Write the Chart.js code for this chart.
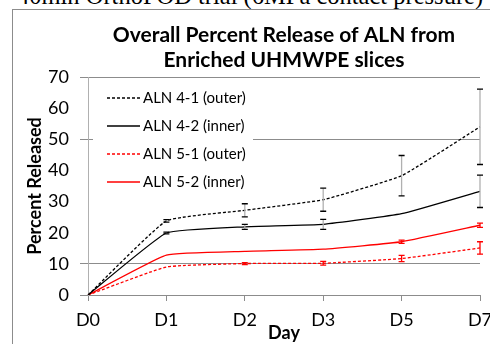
<!DOCTYPE html>
<html>
<head>
<meta charset="utf-8">
<script src="https://cdn.jsdelivr.net/npm/chart.js@4"></script>
<style>
  body { margin: 0; background: #fff; overflow: hidden; }
  #wrap { position: relative; width: 490px; height: 344px; overflow: hidden; }
  #caption { position: absolute; left: 17px; top: -16px; font: 24.5px "Liberation Serif", serif; line-height: 24px; white-space: nowrap; color: #000; }
  #frame { position: absolute; left: 12px; top: 9px; width: 500px; height: 400px; border-left: 1px solid #8c8c8c; border-top: 1px solid #8c8c8c; }
  canvas { position: absolute; left: 0; top: 0; }
</style>
</head>
<body>
<div id="wrap">
  <div id="caption">40min OrthoPOD trial (6MPa contact pressure)</div>
  <div id="frame"></div>
  <canvas id="chart" width="490" height="344"></canvas>
</div>
<script>
 // Sample data
 const days = ['D0', 'D1', 'D2', 'D3', 'D5', 'D7'];
 const titleLines = ['Overall Percent Release of ALN from', 'Enriched UHMWPE slices'];

 const aln41 = [0, 23.8, 27.2, 30.6, 38.3, 54.0];
 const aln41Err = [0, 0.4, 2.1, 3.7, 6.5, 12.1];
 const aln42 = [0, 19.9, 21.9, 22.7, 26.1, 33.3];
 const aln42Err = [0, 0.3, 0.8, 1.6, 0, 5.2];
 const aln51 = [0, 9.0, 10.1, 10.2, 11.7, 15.1];
 const aln51Err = [0, 0, 0.3, 0.6, 1.0, 2.0];
 const aln52 = [0, 12.8, 14.0, 14.7, 17.1, 22.4];
 const aln52Err = [0, 0, 0, 0, 0.5, 0.7];

 const gridValues = [0, 10, 50, 70];
 const font = 'Lato, "Open Sans", sans-serif';

 function series(label, data, errors, color, dashed, barColor) {
     return {
         label: label,
         data: data,
         errors: errors,
         barColor: barColor,
         borderColor: color,
         borderWidth: 1.3,
         borderDash: dashed ? [3, 2] : [],
         pointRadius: 0,
         tension: 0.12,
         fill: false
     };
 }

 // error bars drawn from the scales
 const errorBars = {
     id: 'errorBars',
     afterDatasetsDraw(chart) {
         const ctx = chart.ctx;
         const x = chart.scales.x, y = chart.scales.y;
         chart.data.datasets.forEach(ds => {
             ds.data.forEach((v, i) => {
                 const e = ds.errors[i];
                 if (!e) return;
                 const px = x.getPixelForValue(i);
                 const top = y.getPixelForValue(v + e);
                 const bot = y.getPixelForValue(v - e);
                 ctx.save();
                 ctx.lineWidth = 1.3;
                 ctx.strokeStyle = ds.barColor;
                 ctx.beginPath();
                 ctx.moveTo(px, top);
                 ctx.lineTo(px, bot);
                 ctx.stroke();
                 ctx.strokeStyle = ds.borderColor;
                 ctx.beginPath();
                 ctx.moveTo(px - 3, top); ctx.lineTo(px + 3, top);
                 ctx.moveTo(px - 3, bot); ctx.lineTo(px + 3, bot);
                 ctx.stroke();
                 ctx.restore();
             });
         });
     }
 };

 // title + legend box inside the plot
 const decorations = {
     id: 'decorations',
     afterDraw(chart) {
         const ctx = chart.ctx;
         const area = chart.chartArea;
         ctx.save();
         ctx.fillStyle = '#000';
         ctx.textAlign = 'center';
         ctx.textBaseline = 'middle';
         ctx.font = 'bold 21px ' + font;
         const cx = (area.left + area.right) / 2;
         ctx.fillText(titleLines[0], cx, 35);
         ctx.fillText(titleLines[1], cx, 60);

         ctx.fillStyle = '#fff';
         ctx.fillRect(93, 81, 160, 110);
         ctx.textAlign = 'left';
         ctx.font = '15px ' + font;
         chart.data.datasets.forEach((ds, i) => {
             const ly = 98 + i * 28;
             ctx.strokeStyle = ds.borderColor;
             ctx.lineWidth = 1.3;
             ctx.setLineDash(ds.borderDash);
             ctx.beginPath();
             ctx.moveTo(107, ly);
             ctx.lineTo(140, ly);
             ctx.stroke();
             ctx.setLineDash([]);
             ctx.fillStyle = '#000';
             ctx.fillText(ds.label, 143, ly);
         });
         ctx.restore();
     }
 };

 new Chart(document.getElementById('chart').getContext('2d'), {
     type: 'line',
     data: {
         labels: days,
         datasets: [
             series('ALN 4-1 (outer)', aln41, aln41Err, '#000', true, '#b0b0b0'),
             series('ALN 4-2 (inner)', aln42, aln42Err, '#000', false, '#b0b0b0'),
             series('ALN 5-1 (outer)', aln51, aln51Err, '#ff0000', true, '#ff0000'),
             series('ALN 5-2 (inner)', aln52, aln52Err, '#ff0000', false, '#ff0000')
         ]
     },
     options: {
         responsive: false,
         animation: false,
         layout: { padding: { top: 77, left: 24, right: 10, bottom: 0 } },
         plugins: { legend: { display: false }, tooltip: { enabled: false } },
         scales: {
             x: {
                 offset: false,
                 afterFit: s => { s.height = 49; s.paddingLeft = 0; s.paddingRight = 0; },
                 grid: { drawOnChartArea: false, color: '#8c8c8c', tickLength: 6 },
                 border: { color: '#8c8c8c' },
                 ticks: { color: '#000', font: { family: font, size: 18 }, padding: 8, maxRotation: 0 },
                 title: { display: true, text: 'Day', color: '#000', font: { family: font, size: 18, weight: 'bold' }, padding: { top: -3, bottom: 0 } }
             },
             y: {
                 min: 0,
                 max: 70,
                 afterFit: s => { s.width = 64; },
                 grid: {
                     color: c => gridValues.includes(c.tick.value) ? '#8c8c8c' : 'rgba(0,0,0,0)',
                     tickLength: 8
                 },
                 border: { color: '#b0b0b0' },
                 ticks: { stepSize: 10, color: '#000', font: { family: font, size: 18 }, padding: 11 },
                 title: { display: true, text: 'Percent Released', color: '#000', font: { family: font, size: 18, weight: 'bold' }, padding: { top: 0, bottom: 2 } }
             }
         }
     },
     plugins: [errorBars, decorations]
 });
</script>
</body>
</html>
